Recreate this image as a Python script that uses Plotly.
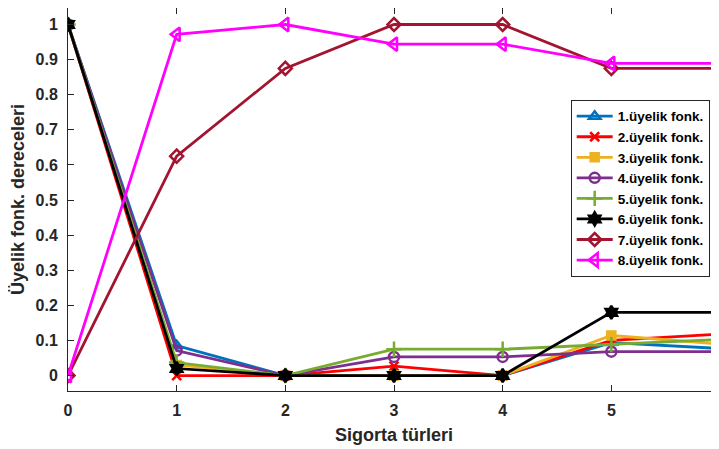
import plotly.graph_objects as go

x_vals = [0, 1, 2, 3, 4, 5, 6]

uf1 = [1, 0.085, 0, 0, 0, 0.094, 0.077]
uf2 = [1, 0, 0, 0.027, 0, 0.100, 0.118]
uf3 = [1, 0.030, 0, 0, 0, 0.114, 0.090]
uf4 = [1, 0.071, 0, 0.053, 0.053, 0.068, 0.068]
uf5 = [1, 0.037, 0, 0.075, 0.075, 0.088, 0.103]
uf6 = [1, 0.020, 0, 0, 0, 0.180, 0.180]
uf7 = [0, 0.625, 0.875, 1, 1, 0.875, 0.875]
uf8 = [0, 0.972, 1, 0.944, 0.944, 0.889, 0.889]

names = ["1.üyelik fonk.", "2.üyelik fonk.", "3.üyelik fonk.", "4.üyelik fonk.",
         "5.üyelik fonk.", "6.üyelik fonk.", "7.üyelik fonk.", "8.üyelik fonk."]
series = [uf1, uf2, uf3, uf4, uf5, uf6, uf7, uf8]
colors = ["#0072BD", "#FF0000", "#EDB120", "#7E2F8E", "#77AC30", "#000000", "#A2142F", "#FF00FF"]
symbols = ["triangle-up-open", "x-thin-open", "square", "circle-open",
           "cross-thin-open", "hexagram", "diamond-open", "triangle-left-open"]
sizes = [10, 9, 8, 10, 11, 10, 10, 12]

y_ticks = [0, 0.1, 0.2, 0.3, 0.4, 0.5, 0.6, 0.7, 0.8, 0.9, 1]
y_ticktext = ["0", "0.1", "0.2", "0.3", "0.4", "0.5", "0.6", "0.7", "0.8", "0.9", "1"]

fig = go.Figure()
for nm, ys, c, s, sz in zip(names, series, colors, symbols, sizes):
    fig.add_trace(go.Scatter(
        x=x_vals, y=ys, name=nm, mode="lines+markers",
        line=dict(color=c, width=2.8),
        marker=dict(symbol=s, size=sz, color=c, line=dict(color=c, width=2.5)),
    ))

FAM = "Liberation Sans, Arial, sans-serif"
axis_font = dict(family=FAM, size=16, color="#262626", weight="bold")
title_font = dict(family=FAM, size=18, color="#262626", weight="bold")

fig.update_layout(
    width=712, height=441,
    margin=dict(l=60, r=0, t=0, b=58),
    paper_bgcolor="white", plot_bgcolor="white",
    font=dict(family=FAM, color="#262626"),
    xaxis=dict(
        range=[0, 6.0], tickvals=x_vals, ticktext=[str(v) for v in x_vals],
        ticks="inside", ticklen=6, tickcolor="#262626", tickwidth=1,
        showline=True, linecolor="#262626", linewidth=1, mirror="ticks",
        showgrid=False, zeroline=False, tickfont=axis_font, ticklabelstandoff=5,
        title=dict(text="Sigorta türleri", standoff=10, font=title_font),
    ),
    yaxis=dict(
        range=[-0.044, 1.047], tickvals=y_ticks, ticktext=y_ticktext,
        ticks="inside", ticklen=6, tickcolor="#262626", tickwidth=1,
        showline=True, linecolor="#262626", linewidth=1, mirror="ticks",
        showgrid=False, zeroline=False, tickfont=axis_font, ticklabelstandoff=6,
        title=dict(text="Üyelik fonk. dereceleri", standoff=8, font=title_font),
    ),
    legend=dict(
        x=0.771, y=0.760, xanchor="left", yanchor="top",
        bgcolor="white", bordercolor="#262626", borderwidth=1,
        font=dict(family=FAM, size=13.5, color="#000000", weight="bold"),
        itemwidth=36, tracegroupgap=0,
    ),
    showlegend=True,
)

fig.write_html("out.html")
